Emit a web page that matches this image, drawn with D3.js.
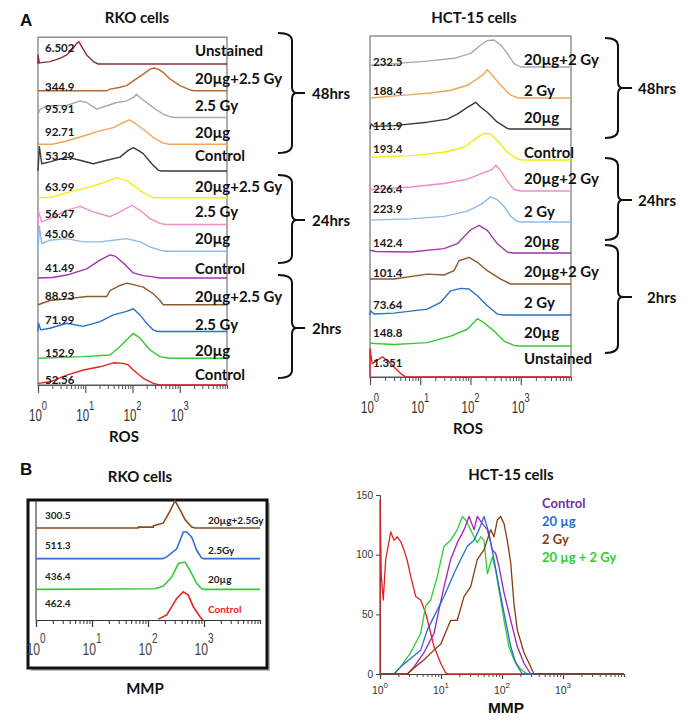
<!DOCTYPE html>
<html><head><meta charset="utf-8">
<script src="https://cdn.jsdelivr.net/npm/d3@7"></script>
<style>body{margin:0;background:#fff}svg{display:block}</style>
</head><body><script>
// ===================== DATA =====================
// Panel A – RKO cells, ROS histograms (top to bottom); points are [ROS intensity, relative count 0-100]
const rkoRosConditions = ["Unstained","20µg+2.5 Gy","2.5 Gy","20µg","Control","20µg+2.5 Gy","2.5 Gy","20µg","Control","20µg+2.5 Gy","2.5 Gy","20µg","Control"];
const rkoRosMeans = ["6.502","344.9","95.91","92.71","53.29","63.99","56.47","45.06","41.49","88.93","71.99","152.9","52.56"];
const rkoRosColors = ["#8a2f3c","#b8682c","#a9a9a9","#f5a356","#3a3a3a","#f0ee10","#f08cc8","#8fbbe8","#a334b0","#8c5a2c","#2e6fc6","#35c935","#e62222"];
const rkoRosHist = [
 [[1,0],[1,34],[1.07,4],[1.79,9],[2.92,21],[4.05,34],[5.17,52],[6.58,77],[7.37,83],[8.43,65],[10.7,34],[14.8,9],[18.8,0],[10000,0]],
 [[1,0],[28.9,0],[33.4,6],[52,12],[75.4,19],[104,37],[169,62],[235,81],[285,85],[352,81],[449,68],[622,44],[1012,19],[1648,3],[2000,0],[10000,0]],
 [[1,11],[1.10,30],[1.53,44],[4.05,45],[7.74,62],[10.7,56],[17.5,31],[28.5,44],[46.4,56],[75.4,62],[104,75],[122,87],[144,75],[199,56],[275,37],[449,12],[622,3],[800,0],[10000,0]],
 [[1,0],[2,0],[4.05,12],[9.1,31],[20.5,50],[39.4,62],[64,81],[86,91],[104,83],[169,56],[275,25],[449,4],[600,0],[10000,0]],
 [[1,0],[1.07,91],[1.2,27],[1.79,34],[4.05,52],[7.74,40],[14.8,27],[28.5,40],[54.4,52],[81.4,77],[104,87],[132,77],[169,65],[256,27],[352,3],[400,0],[10000,0]],
 [[1,0],[2,2],[4.05,19],[10.7,37],[24.1,56],[46.4,75],[75.4,64],[169,19],[275,0],[10000,0]],
 [[1,0],[1.01,52],[1.2,10],[1.79,22],[4.05,53],[7.74,68],[14.8,47],[33.4,29],[54.4,47],[96.5,72],[144,53],[235,22],[382,4],[500,0],[10000,0]],
 [[1,0],[1.07,93],[1.2,29],[1.79,41],[4.05,47],[9.1,35],[20.5,35],[39.4,41],[75.4,47],[144,35],[235,16],[382,4],[500,0],[10000,0]],
 [[1,0],[2,2],[4.05,11],[10.7,34],[20.5,67],[33.4,86],[42.5,82],[64,56],[104,19],[169,9],[275,4],[382,0],[10000,0]],
 [[1,0],[1.79,16],[4.05,22],[10.7,31],[28.5,31],[33.4,53],[54.4,72],[75.4,81],[104,75],[169,66],[275,41],[382,16],[449,0],[10000,0]],
 [[1,0],[1.03,31],[1.14,6],[1.79,12],[4.05,31],[9.1,19],[20.5,37],[39.4,62],[75.4,75],[104,85],[144,62],[199,31],[275,6],[340,0],[10000,0]],
 [[1,0],[9.1,6],[33.4,12],[54.4,44],[81.4,75],[104,93],[144,75],[235,31],[382,6],[600,0],[10000,0]],
 [[1,6],[1.79,12],[4.05,37],[9.1,56],[20.5,68],[39.4,83],[64,81],[81.4,75],[104,56],[169,25],[275,6],[382,0],[10000,0]]
];
const rkoRosGroups = ["48hrs","24hrs","2hrs"];

// Panel A – HCT-15 cells, ROS histograms
const hctRosConditions = ["20µg+2 Gy","2 Gy","20µg","Control","20µg+2 Gy","2 Gy","20µg","20µg+2 Gy","2 Gy","20µg","Unstained"];
const hctRosMeans = ["232.5","188.4","111.9","193.4","226.4","223.9","142.4","101.4","73.64","148.8","1.351"];
const hctRosColors = ["#a9a9a9","#f5a356","#3a3a3a","#f0ee10","#f08cc8","#8fbbe8","#a334b0","#8c5a2c","#2e6fc6","#35c935","#e62222"];
const hctRosHist = [
 [[1,5],[3.0,11],[13.8,19],[47,28],[101,44],[160,71],[216,85],[294,87],[399,71],[540,44],[734,11],[997,0],[10000,0]],
 [[1,0],[6.46,11],[16.1,16],[40.4,25],[86.4,41],[137,62],[186,78],[216,91],[272,73],[399,41],[631,9],[900,0],[10000,0]],
 [[1,0],[1.05,16],[1.2,8],[3.0,11],[13.8,22],[34.5,32],[54.6,48],[86.4,70],[127,86],[160,70],[216,54],[341,22],[540,2],[600,0],[10000,0]],
 [[1,9],[6.46,14],[29.7,25],[74.3,41],[137,73],[186,86],[252,84],[341,62],[540,25],[854,3],[1100,0],[10000,0]],
 [[1,5],[6.46,13],[29.7,24],[86.4,38],[186,59],[272,70],[317,83],[399,65],[540,32],[734,5],[997,0],[10000,0]],
 [[1,6],[6.46,10],[29.7,18],[86.4,35],[160,56],[252,81],[341,72],[464,51],[631,18],[854,2],[1000,0],[10000,0]],
 [[1,9],[1.3,5],[6.46,3],[29.7,14],[54.6,30],[101,75],[148,89],[216,73],[341,30],[540,3],[700,0],[10000,0]],
 [[1,16],[3.0,16],[13.8,32],[29.7,29],[47,43],[59,75],[93.4,86],[137,70],[216,43],[399,16],[631,0],[10000,0]],
 [[1,0],[1.02,14],[1.2,3],[3.0,6],[13.8,19],[25.5,41],[40.4,78],[63.8,86],[93.4,84],[137,62],[216,30],[341,3],[450,0],[10000,0]],
 [[1,9],[3.0,5],[13.8,11],[40.4,32],[86.4,54],[137,88],[186,75],[294,48],[464,16],[734,2],[900,0],[10000,0]],
 [[1,0],[1,91],[1.11,43],[1.40,54],[1.76,65],[2.21,54],[3.0,32],[4.08,11],[5.13,0],[10000,0]]
];
const hctRosGroups = ["48hrs","24hrs","2hrs"];

// Panel B – RKO cells, MMP histograms
const rkoMmpConditions = ["20µg+2.5Gy","2.5Gy","20µg","Control"];
const rkoMmpMeans = ["300.5","511.3","436.4","462.4"];
const rkoMmpColors = ["#8c4a1c","#2e6fd6","#35c935","#e62222"];
const rkoMmpHist = [
 [[1,0],[67,0],[67,3],[124,3],[124,7],[188,17],[247,56],[304,91],[373,61],[458,28],[603,3],[700,0],[10000,0]],
 [[1,0],[180,0],[216,6],[326,33],[427,89],[491,89],[603,72],[741,28],[910,2],[1000,0],[10000,0]],
 [[1,0],[133,2],[188,11],[265,41],[348,86],[458,91],[562,63],[741,19],[910,2],[1000,0],[10000,0]],
 [[153,3],[216,17],[326,72],[427,94],[525,83],[644,44],[849,11],[948,0]]
];

// Panel B – HCT-15 cells, MMP overlay histograms (counts)
const hctMmpSeries = ["Unstained","20 µg + 2 Gy","Control","20 µg","2 Gy"];
const hctMmpColors = ["#e02020","#33cc33","#a020b0","#1f6fd0","#8b3a0f"];
const hctMmpHist = [
 [[1,0],[1,146],[1.05,82],[1.13,62],[1.24,96],[1.5,119],[1.7,112],[1.92,115],[2.18,111],[2.47,104],[2.8,95],[3.18,82],[3.85,65],[4.64,62],[5.61,51],[6.36,40],[7.68,23],[9.88,9],[11.9,1],[13.5,0],[10000,0]],
 [[1,0],[1.7,0],[2.18,6],[3.18,18],[4.64,34],[5.61,57],[6.77,62],[8.71,82],[11.2,107],[14.4,112],[18.5,121],[22.4,132],[25.4,129],[30.6,121],[34.8,115],[39.4,110],[44.7,115],[50.7,112],[57.5,84],[69.4,98],[78.7,87],[95,62],[108,45],[130,23],[157,12],[202,4],[260,0],[10000,0]],
 [[1,0],[2.81,0],[3.61,6],[5.26,18],[7.68,34],[9.27,54],[11.2,73],[14.4,96],[18.5,110],[23.9,121],[28.8,132],[34.8,121],[39.4,132],[47.6,126],[57.5,121],[69.4,104],[78.7,101],[89.3,90],[108,68],[139,45],[178,23],[229,9],[295,0],[10000,0]],
 [[1,0],[1.7,0],[2.18,6],[3.18,13],[4.64,20],[5.97,37],[8.18,51],[11.2,65],[16.3,84],[21.0,96],[27.0,107],[34.8,112],[42.0,121],[50.7,132],[61.2,118],[73.9,96],[89.3,73],[108,51],[139,23],[168,9],[215,0],[10000,0]],
 [[1,0],[2.81,0],[3.61,5],[5.26,12],[7.68,20],[9.88,25],[14.4,45],[18.5,45],[23.9,65],[30.6,73],[39.4,96],[50.7,104],[65.2,121],[73.9,115],[83.8,129],[95,132],[108,126],[122,112],[139,93],[157,59],[178,37],[229,18],[295,6],[335,0],[10000,0]]
];
const hctMmpLegend = ["Control","20 µg","2 Gy","20 µg + 2 Gy"];
const hctMmpLegendColors = ["#7030a0","#1f6fd0","#8b3a0f","#33cc33"];
const mmpYTicks = [0,50,100,150];
const decadeExps = [0,1,2,3];

// ===================== LAYOUT =====================
const W = 688, H = 725;
const BOLD = "Lato, 'Open Sans', sans-serif";
const ARIAL = "'Liberation Sans',Arial,sans-serif";

const svg = d3.select("body").append("svg").attr("width", W).attr("height", H)
  .style("background", "#fff");

const minorVals = [];
for (let e = 0; e < 4; e++) for (let k = 2; k <= 9; k++) minorVals.push(k * Math.pow(10, e));
const majorVals = [1, 10, 100, 1000];

// decade labels "10^e"; sx < 1 gives a condensed look
function decadeLabels(g, x, y, size, supSize, supDy, sx, color) {
  decadeExps.forEach(e => {
    const t = g.append("text")
      .attr("transform", `translate(${x(Math.pow(10, e))},${y}) scale(${sx},1)`)
      .attr("text-anchor", "middle").attr("font-family", ARIAL).attr("font-size", size)
      .attr("fill", color);
    t.append("tspan").text("10");
    t.append("tspan").attr("dy", supDy).attr("font-size", supSize).text(e);
  });
}

function logAxis(g, x, y, minorLen, majorLen, color) {
  const a1 = g.append("g").attr("transform", `translate(0,${y})`)
    .call(d3.axisBottom(x).tickValues(minorVals).tickSize(minorLen).tickFormat(""));
  a1.select(".domain").attr("stroke", color).attr("stroke-width", 1.2);
  a1.selectAll(".tick line").attr("stroke", color);
  const a2 = g.append("g").attr("transform", `translate(0,${y})`)
    .call(d3.axisBottom(x).tickValues(majorVals).tickSize(majorLen).tickFormat(""));
  a2.select(".domain").remove();
  a2.selectAll(".tick line").attr("stroke", color).attr("stroke-width", 1.2);
}

function brace(g, tip, vx, te, y0, y1, ym) {
  const p = `M${tip},${y0} Q${vx},${y0} ${vx},${y0+8} L${vx},${ym-6} Q${vx},${ym} ${vx+5},${ym} L${te},${ym} M${vx+5},${ym} Q${vx},${ym} ${vx},${ym+6} L${vx},${y1-8} Q${vx},${y1} ${tip},${y1}`;
  g.append("path").attr("d", p).attr("fill", "none").attr("stroke", "#111").attr("stroke-width", 2);
}

function stackedRos(cfg) {
  const g = svg.append("g");
  const x = d3.scaleLog().domain([1, 1e4]).range([cfg.x0, cfg.x1]);
  const n = cfg.hist.length;
  const bottom = cfg.base0 + (n - 1) * cfg.step;
  g.append("rect").attr("x", cfg.x0).attr("y", cfg.base0 - cfg.step)
    .attr("width", cfg.x1 - cfg.x0).attr("height", bottom - cfg.base0 + cfg.step)
    .attr("fill", "none").attr("stroke", "#808080").attr("stroke-width", 1.3);
  cfg.hist.forEach((h, i) => {
    const base = cfg.base0 + i * cfg.step;
    const y = d3.scaleLinear().domain([0, 100]).range([base, base - cfg.step]);
    const line = d3.line().x(d => x(d[0])).y(d => y(d[1]));
    g.append("path").attr("d", line(h)).attr("fill", "none")
      .attr("stroke", cfg.colors[i]).attr("stroke-width", 1.4).attr("stroke-linejoin", "round");
  });
  logAxis(g, x, bottom, 4, 8, "#555");
  cfg.hist.forEach((h, i) => {
    const base = cfg.base0 + i * cfg.step;
    g.append("text").attr("x", cfg.valX).attr("y", base + cfg.valOff[i])
      .attr("dominant-baseline", "central").attr("font-family", BOLD).attr("font-weight", 700)
      .attr("font-size", 11.5).attr("fill", "#1a1a1a").text(cfg.means[i]);
    g.append("text").attr("x", cfg.labX).attr("y", base + cfg.labOff[i])
      .attr("dominant-baseline", "central").attr("font-family", BOLD).attr("font-weight", 700)
      .attr("font-size", 15).attr("fill", "#111").text(cfg.conds[i]);
  });
  decadeLabels(g, x, bottom + 36, 16, 13, -11, 0.72, "#333");
  g.append("text").attr("x", cfg.rosX).attr("y", bottom + 57).attr("text-anchor", "middle")
    .attr("font-family", BOLD).attr("font-weight", 700).attr("font-size", 15).attr("fill", "#111").text("ROS");
  g.append("text").attr("x", cfg.titleX).attr("y", 23).attr("text-anchor", "middle")
    .attr("font-family", BOLD).attr("font-weight", 700).attr("font-size", 15).attr("fill", "#111").text(cfg.title);
  cfg.braces.forEach((b, i) => {
    brace(g, cfg.bTip, cfg.bV, cfg.bTick, b[0], b[1], b[2]);
    g.append("text").attr("x", cfg.bLabX[i]).attr("y", b[2]).attr("dominant-baseline", "central")
      .attr("font-family", BOLD).attr("font-weight", 700).attr("font-size", 15).attr("fill", "#111")
      .text(cfg.groups[i]);
  });
}

// Panel letters
svg.append("text").attr("x", 20).attr("y", 26).attr("font-family", ARIAL).attr("font-weight", 700)
  .attr("font-size", 17).attr("fill", "#111").text("A");
svg.append("text").attr("x", 20).attr("y", 475).attr("font-family", ARIAL).attr("font-weight", 700)
  .attr("font-size", 17).attr("fill", "#111").text("B");

stackedRos({
  x0: 38, x1: 227, base0: 64, step: 26.75, hist: rkoRosHist, colors: rkoRosColors,
  means: rkoRosMeans, conds: rkoRosConditions, valX: 45, labX: 195,
  valOff: [-17,-4,-9,-13,-16,-11,-11,-18,-11,-9,-12,-6,-6],
  labOff: [-14,-13,-13,-12,-16,-12,-14,-13,-10,-9,-8,-8,-11],
  rosX: 124, titleX: 137, title: "RKO cells", groups: rkoRosGroups,
  bTip: 278, bV: 292, bTick: 305, bLabX: [312, 312, 312],
  braces: [[33, 153, 93], [175, 263, 220], [275, 378, 328]]
});

stackedRos({
  x0: 370, x1: 571, base0: 67, step: 31, hist: hctRosHist, colors: hctRosColors,
  means: hctRosMeans, conds: hctRosConditions, valX: 373, labX: 524,
  valOff: [-6,-8,-4,-12,-3,-14,-11,-12,-11,-14,-15],
  labOff: [-8,-8,-12,-8,-13,-11,-12,-13,-13,-14,-19],
  rosX: 468, titleX: 474, title: "HCT-15 cells", groups: hctRosGroups,
  bTip: 605, bV: 618, bTick: 632, bLabX: [638, 638, 647],
  braces: [[38, 138, 88], [158, 240, 200], [245, 353, 297]]
});

// ---------- Panel B: RKO MMP ----------
(function () {
  const g = svg.append("g");
  const x = d3.scaleLog().domain([1, 1e4]).range([36, 260]);
  const base0 = 528, step = 30.67, laneH = 30;
  const bottom = base0 + 3 * step;
  g.append("rect").attr("x", 31).attr("y", 503).attr("width", 239).attr("height", 168)
    .attr("fill", "#bdbdbd");
  g.append("rect").attr("x", 28).attr("y", 500).attr("width", 239).attr("height", 168)
    .attr("fill", "#fff").attr("stroke", "#111").attr("stroke-width", 3);
  g.append("line").attr("x1", 36).attr("x2", 36).attr("y1", 501).attr("y2", bottom)
    .attr("stroke", "#444").attr("stroke-width", 1.2);
  rkoMmpHist.forEach((h, i) => {
    const base = base0 + i * step;
    const y = d3.scaleLinear().domain([0, 100]).range([base, base - laneH]);
    const line = d3.line().x(d => x(d[0])).y(d => y(d[1]));
    g.append("path").attr("d", line(h)).attr("fill", "none").attr("stroke", rkoMmpColors[i])
      .attr("stroke-width", 1.6);
  });
  logAxis(g, x, bottom, 4, 7, "#333");
  const valOff = [-13, -14, -13, -17];
  const labOff = [-8, -9, -10, -11];
  rkoMmpHist.forEach((h, i) => {
    const base = base0 + i * step;
    g.append("text").attr("x", 45).attr("y", base + valOff[i]).attr("dominant-baseline", "central")
      .attr("font-family", BOLD).attr("font-weight", 700).attr("font-size", 10).attr("fill", "#222")
      .text(rkoMmpMeans[i]);
    g.append("text").attr("x", 208).attr("y", base + labOff[i]).attr("dominant-baseline", "central")
      .attr("font-family", BOLD).attr("font-weight", 700).attr("font-size", 10)
      .attr("fill", i === 3 ? "#e62222" : "#222").text(rkoMmpConditions[i]);
  });
  decadeLabels(g, x, bottom + 35, 17, 14, -12, 0.72, "#444");
  g.append("text").attr("x", 140).attr("y", 482).attr("text-anchor", "middle")
    .attr("font-family", BOLD).attr("font-weight", 700).attr("font-size", 15).attr("fill", "#111").text("RKO cells");
  g.append("text").attr("x", 145).attr("y", 694).attr("text-anchor", "middle")
    .attr("font-family", BOLD).attr("font-weight", 700).attr("font-size", 15).attr("fill", "#111").text("MMP");
})();

// ---------- Panel B: HCT-15 MMP ----------
(function () {
  const g = svg.append("g");
  const x = d3.scaleLog().domain([1, 1e4]).range([380, 624]);
  const y = d3.scaleLinear().domain([0, 150]).range([674, 495]);
  const ya = g.append("g").attr("transform", "translate(380,0)")
    .call(d3.axisLeft(y).tickValues(mmpYTicks).tickSize(4).tickPadding(3));
  ya.select(".domain").attr("stroke", "#444");
  ya.selectAll(".tick line").attr("stroke", "#444");
  ya.selectAll(".tick text").attr("font-family", ARIAL).attr("font-size", 10).attr("fill", "#333");
  logAxis(g, x, 674, 3, 5, "#444");
  hctMmpHist.forEach((h, i) => {
    const line = d3.line().x(d => x(d[0])).y(d => y(d[1]));
    g.append("path").attr("d", line(h)).attr("fill", "none").attr("stroke", hctMmpColors[i])
      .attr("stroke-width", 1.3).attr("stroke-linejoin", "round");
  });
  decadeLabels(g, x, 694, 10.5, 8, -6, 1, "#333");
  hctMmpLegend.forEach((t, i) => {
    g.append("text").attr("x", 542).attr("y", 503 + i * 18).attr("dominant-baseline", "central")
      .attr("font-family", BOLD).attr("font-weight", 700).attr("font-size", 13)
      .attr("fill", hctMmpLegendColors[i]).text(t);
  });
  g.append("text").attr("x", 511).attr("y", 480).attr("text-anchor", "middle")
    .attr("font-family", BOLD).attr("font-weight", 700).attr("font-size", 15).attr("fill", "#111").text("HCT-15 cells");
  g.append("text").attr("x", 506).attr("y", 713).attr("text-anchor", "middle")
    .attr("font-family", ARIAL).attr("font-weight", 700).attr("font-size", 15.5).attr("fill", "#111").text("MMP");
})();
</script></body></html>
